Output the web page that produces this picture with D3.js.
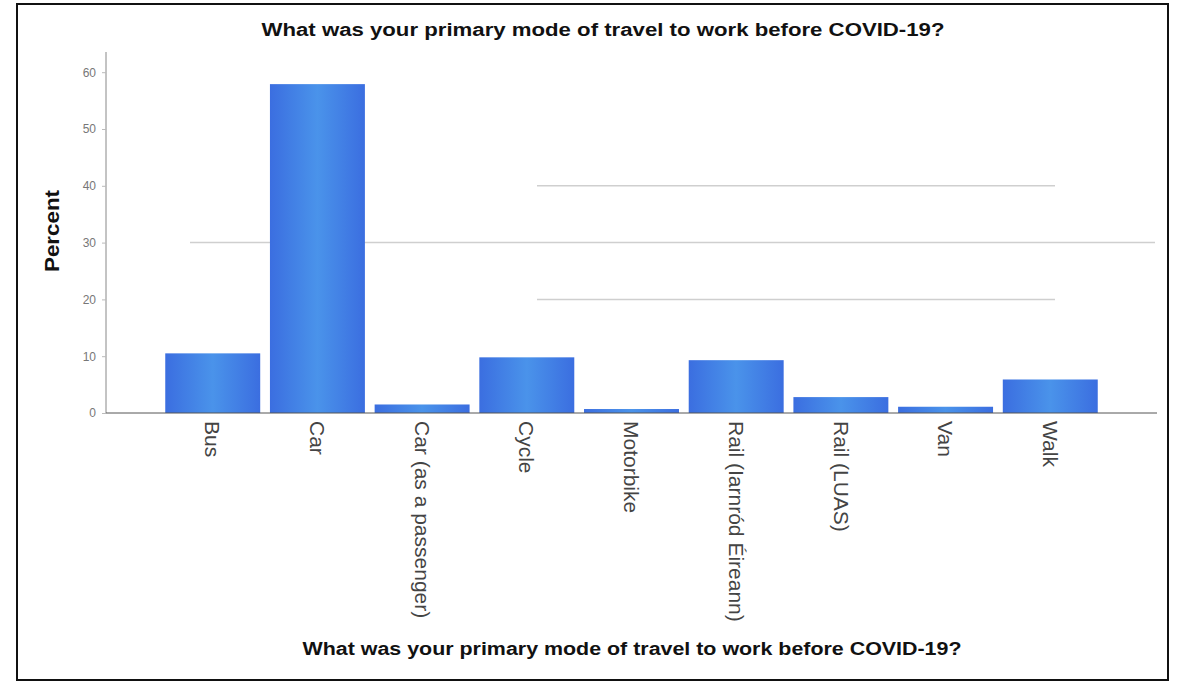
<!DOCTYPE html>
<html><head><meta charset="utf-8">
<script src="https://cdn.jsdelivr.net/npm/d3@7"></script>
<style>body{margin:0;background:#fff}svg{display:block}</style>
</head><body>
<svg id="c" width="1178" height="681"></svg>
<script>
const categories = ["Bus","Car","Car (as a passenger)","Cycle","Motorbike","Rail (Iarnród Éireann)","Rail (LUAS)","Van","Walk"];
const values = [10.5, 57.9, 1.5, 9.8, 0.7, 9.3, 2.8, 1.1, 5.9];
const yTicks = [0,10,20,30,40,50,60];
const title = "What was your primary mode of travel to work before COVID-19?";
const yLabel = "Percent";

(function(){
const svg = d3.select("#c");
const pLeft = 106, pRight = 1157, pTop = 52, base = 413;
const font = "Arial, 'Liberation Sans', sans-serif";

const defs = svg.append("defs");
const g = defs.append("linearGradient").attr("id","bg").attr("x1","0").attr("x2","1").attr("y1","0").attr("y2","0");
g.append("stop").attr("offset","0").attr("stop-color","#3b6ee0");
g.append("stop").attr("offset","0.5").attr("stop-color","#4a93ea");
g.append("stop").attr("offset","1").attr("stop-color","#3b6ee0");

// border
svg.append("rect").attr("x",17).attr("y",4).attr("width",1151).attr("height",676)
  .attr("fill","none").attr("stroke","#111").attr("stroke-width",2);

const x = d3.scaleBand().domain(categories).range([pLeft,pRight]).paddingInner(0.093).paddingOuter(0.566);
const y = d3.scaleLinear().domain([0,60]).range([base, base - 6*56.8]);

// faint reference lines
const faint = [[30,190,1155],[40,537,1055],[20,537,1055]];
svg.append("g").selectAll("line").data(faint).join("line")
  .attr("x1",d=>d[1]).attr("x2",d=>d[2]).attr("y1",d=>y(d[0])).attr("y2",d=>y(d[0]))
  .attr("stroke","#cfcfcf").attr("stroke-width",1.5);

// bars
svg.append("g").selectAll("rect").data(values).join("rect")
  .attr("x",(d,i)=>x(categories[i])).attr("width",x.bandwidth())
  .attr("y",d=>y(d)).attr("height",d=>base-y(d))
  .attr("fill","url(#bg)");

// y axis
const ya = svg.append("g").attr("transform",`translate(${pLeft},0)`)
  .call(d3.axisLeft(y).tickValues(yTicks).tickSize(4).tickPadding(6));
ya.select(".domain").attr("stroke","#888").attr("d",`M0,${pTop}V${base}`);
ya.selectAll(".tick line").attr("stroke","#bbb");
ya.selectAll("text").attr("fill","#777").style("font-family",font).style("font-size","12px");

// x axis
const xa = svg.append("g").attr("transform",`translate(0,${base})`)
  .call(d3.axisBottom(x).tickSize(0).tickPadding(0));
xa.select(".domain").attr("stroke","#555").attr("d",`M${pLeft},0H${pRight}`);
xa.selectAll("text")
  .attr("transform","rotate(90)")
  .attr("x",8).attr("y",0).attr("dy","0.35em")
  .attr("text-anchor","start")
  .attr("fill","#444")
  .style("font-family",font).style("font-size","21px");

// titles
svg.append("text").attr("x",603).attr("y",36).attr("text-anchor","middle")
  .attr("textLength",683).attr("lengthAdjust","spacingAndGlyphs")
  .style("font-family",font).style("font-weight","bold").style("font-size","18px")
  .attr("fill","#111").text(title);
svg.append("text").attr("x",632).attr("y",655).attr("text-anchor","middle")
  .attr("textLength",659).attr("lengthAdjust","spacingAndGlyphs")
  .style("font-family",font).style("font-weight","bold").style("font-size","18px")
  .attr("fill","#111").text(title);
svg.append("text").attr("transform","translate(59,231) rotate(-90)").attr("text-anchor","middle")
  .attr("textLength",82).attr("lengthAdjust","spacingAndGlyphs")
  .style("font-family",font).style("font-weight","bold").style("font-size","20px")
  .attr("fill","#111").text(yLabel);
})();
</script>
</body></html>
